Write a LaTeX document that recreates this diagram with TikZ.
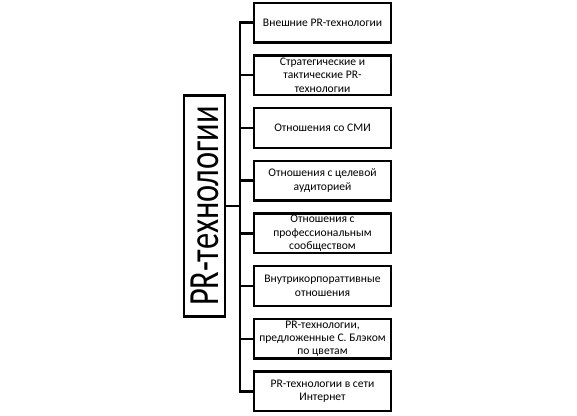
\documentclass[tikz,border=0pt]{standalone}
\usepackage{fontspec}
\setmainfont{Carlito}

\begin{document}
\begin{tikzpicture}[x=1pt,y=-1pt,line width=2.4pt,
    techbox/.style={draw,align=center,minimum width=136.6pt,minimum height=39.6pt,
      inner sep=1pt,font=\fontsize{11.6}{13.4}\selectfont}]

    \useasboundingbox (0,0) rectangle (577,415);

    \node (main) at (204.5,206) [draw,minimum width=40.6pt,minimum height=221pt,inner sep=0pt]
      {\rotatebox{90}{\scalebox{0.755}[1]{\fontsize{43}{43}\selectfont PR-технологии}}};

    \node (ext) at (322.5,22.5) [techbox] {Внешние PR-технологии};
    \node (strat) at (322.5,75.2) [techbox] {Стратегические и\\тактические PR-\\технологии};
    \node (media) at (322.5,127.9) [techbox] {Отношения со СМИ};
    \node (aud) at (322.5,180.6) [techbox] {Отношения с целевой\\аудиторией};
    \node (prof) at (322.5,233.3) [techbox] {Отношения с\\профессиональным\\сообществом};
    \node (corp) at (322.5,286) [techbox] {Внутрикорпораттивные\\отношения};
    \node (black) at (322.5,338.7) [techbox] {PR-технологии,\\предложенные С. Блэком\\по цветам};
    \node (web) at (322.5,391.4) [techbox] {PR-технологии в сети\\Интернет};

    \coordinate (trunk) at (240,206);
    \draw (main.east) -- (trunk);
    \draw (ext.west) -- (ext.west -| trunk) -- (web.west -| trunk) -- (web.west);
    \draw (strat.west) -- (strat.west -| trunk);
    \draw (media.west) -- (media.west -| trunk);
    \draw (aud.west) -- (aud.west -| trunk);
    \draw (prof.west) -- (prof.west -| trunk);
    \draw (corp.west) -- (corp.west -| trunk);
    \draw (black.west) -- (black.west -| trunk);

\end{tikzpicture}
\end{document}
